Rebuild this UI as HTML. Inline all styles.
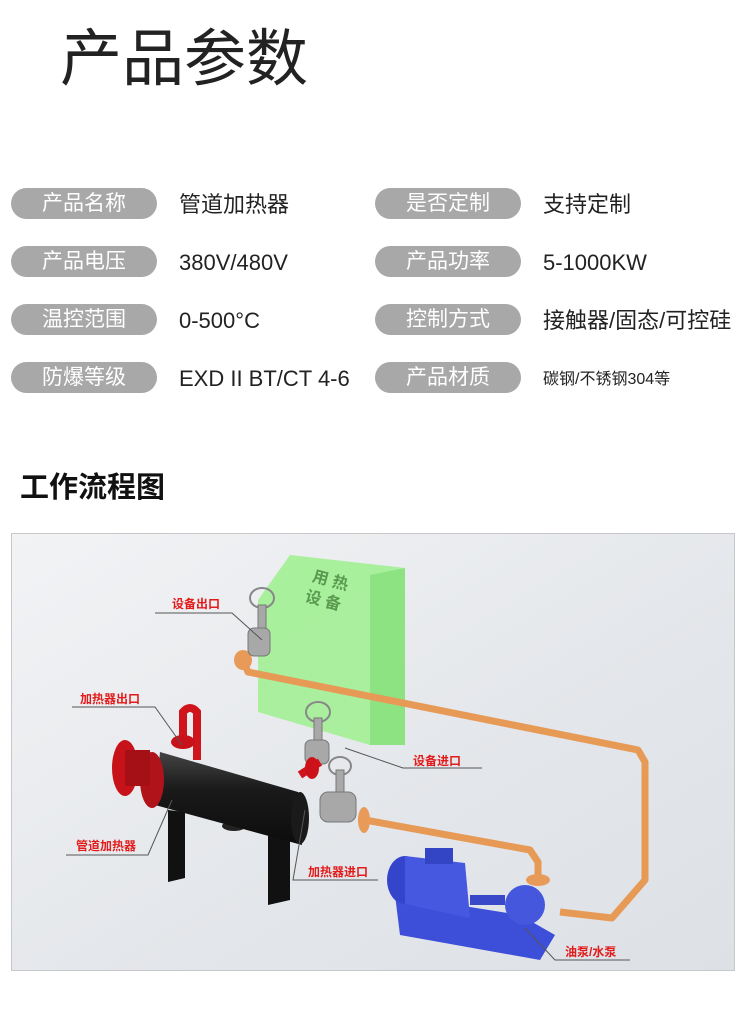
<!DOCTYPE html>
<html><head><meta charset="utf-8"><style>
body{margin:0;width:750px;height:1020px;background:#fff;position:relative;overflow:hidden;font-family:"Liberation Sans","Noto Sans CJK SC",sans-serif;}
.a{position:absolute;white-space:nowrap;}
.t{left:60px;top:24px;font-size:62px;color:#222;line-height:72px;}
.p{position:absolute;width:146px;height:31px;border-radius:16px;background:#a8a8a8;color:#fff;font-size:21px;line-height:31px;text-align:center;}
.v{position:absolute;font-size:22px;color:#222;line-height:31px;}
.h{left:20px;top:470px;font-size:29px;color:#111;font-weight:bold;line-height:36px;}
</style></head><body>
<div class="a t">产品参数</div>
<div class="p" style="left:11px;top:188px">产品名称</div><div class="v" style="left:179px;top:189px">管道加热器</div>
<div class="p" style="left:375px;top:188px">是否定制</div><div class="v" style="left:543px;top:189px">支持定制</div>
<div class="p" style="left:11px;top:246px">产品电压</div><div class="v" style="left:179px;top:247px">380V/480V</div>
<div class="p" style="left:375px;top:246px">产品功率</div><div class="v" style="left:543px;top:247px">5-1000KW</div>
<div class="p" style="left:11px;top:304px">温控范围</div><div class="v" style="left:179px;top:305px">0-500°C</div>
<div class="p" style="left:375px;top:304px">控制方式</div><div class="v" style="left:543px;top:305px">接触器/固态/可控硅</div>
<div class="p" style="left:11px;top:362px">防爆等级</div><div class="v" style="left:179px;top:363px">EXD II BT/CT 4-6</div>
<div class="p" style="left:375px;top:362px">产品材质</div><div class="v" style="left:543px;top:364px;font-size:16px">碳钢/不锈钢304等</div>
<div class="a h">工作流程图</div>
<svg class="a" style="left:11px;top:533px" width="724" height="438" viewBox="11 533 724 438">
<defs>
<linearGradient id="bg" x1="0" y1="0" x2="1" y2="1"><stop offset="0" stop-color="#f2f3f5"/><stop offset="0.6" stop-color="#e3e6ea"/><stop offset="1" stop-color="#dde1e6"/></linearGradient>
<linearGradient id="cyl" x1="0" y1="0" x2="0" y2="1"><stop offset="0" stop-color="#444"/><stop offset="0.4" stop-color="#1a1a1a"/><stop offset="1" stop-color="#0c0c0c"/></linearGradient>
</defs>
<rect x="11.5" y="533.5" width="723" height="437" fill="url(#bg)" stroke="#c8c8c8"/>
<polygon points="258,600 290,555 405,568 405,745 370,745 258,712" fill="#9ef08e" opacity="0.85"/>
<polygon points="370,575 405,568 405,745 370,745" fill="#86e07a" opacity="0.8"/>
<text x="312" y="583" font-size="16" fill="#5a9a50" font-weight="bold" transform="rotate(15 320 580)">用 热</text>
<text x="305" y="605" font-size="16" fill="#5a9a50" font-weight="bold" transform="rotate(15 320 600)">设 备</text>
<polyline points="243,660 248,672 638,750 645,762 645,880 612,918 560,912" fill="none" stroke="#e79a55" stroke-width="7" stroke-linejoin="round"/>
<polyline points="365,820 530,850 538,862 538,880" fill="none" stroke="#e79a55" stroke-width="7" stroke-linejoin="round"/>
<ellipse cx="243" cy="660" rx="9" ry="10" fill="#e89a58"/>
<ellipse cx="364" cy="820" rx="6" ry="13" fill="#e89a58"/>
<ellipse cx="538" cy="880" rx="12" ry="6" fill="#e89a58"/>
<g fill="#a8a8a8" stroke="#777" stroke-width="1">
<ellipse cx="262" cy="598" rx="12" ry="10" fill="none" stroke="#888" stroke-width="2"/>
<rect x="258" y="605" width="8" height="25"/><rect x="248" y="628" width="22" height="28" rx="6"/>
<ellipse cx="318" cy="712" rx="12" ry="10" fill="none" stroke="#888" stroke-width="2"/>
<rect x="314" y="718" width="8" height="28"/><rect x="305" y="740" width="24" height="24" rx="6"/>
<ellipse cx="340" cy="766" rx="11" ry="9" fill="none" stroke="#888" stroke-width="2"/>
<rect x="336" y="770" width="8" height="25"/><rect x="320" y="792" width="36" height="30" rx="8"/>
</g>
<path d="M183,740 L183,712 Q190,704 197,712 L197,760" fill="none" stroke="#d0141c" stroke-width="8"/>
<ellipse cx="183" cy="742" rx="12" ry="7" fill="#c8121a"/>
<path d="M300,775 L320,762" stroke="#d0141c" stroke-width="8"/>
<ellipse cx="312" cy="768" rx="7" ry="11" fill="#cc1218"/>
<polygon points="168,810 185,812 185,878 168,882" fill="#111"/>
<polygon points="268,830 290,832 290,900 268,905" fill="#111"/>
<ellipse cx="234" cy="826" rx="12" ry="5" fill="#222"/>
<polygon points="160,752 298,792 302,845 155,805" fill="url(#cyl)"/>
<ellipse cx="300" cy="818" rx="9" ry="26" fill="#1a1a1a"/>
<ellipse cx="152" cy="780" rx="12" ry="28" fill="#b0141a"/>
<ellipse cx="125" cy="768" rx="13" ry="28" fill="#c8121a"/>
<rect x="125" y="750" width="25" height="36" fill="#a51016"/>
<polygon points="395,895 520,915 555,935 540,960 400,935" fill="#3d4fd8"/>
<ellipse cx="405" cy="880" rx="18" ry="24" fill="#3445cc"/>
<polygon points="405,856 465,863 470,918 405,904" fill="#4658e0"/>
<rect x="425" y="848" width="28" height="16" fill="#3344c4"/>
<ellipse cx="525" cy="905" rx="20" ry="20" fill="#4557dd"/>
<rect x="470" y="895" width="35" height="10" fill="#3848c8"/>
<g fill="none" stroke="#555" stroke-width="1">
<polyline points="155,613 232,613 262,640"/>
<polyline points="72,707 155,707 182,745"/>
<polyline points="482,768 403,768 345,748"/>
<polyline points="66,855 148,855 172,800"/>
<polyline points="378,880 293,880 305,810"/>
<polyline points="630,960 555,960 525,928"/>
</g>
<g fill="#e21a1a" font-size="12" font-weight="bold">
<text x="172" y="608">设备出口</text>
<text x="80" y="703">加热器出口</text>
<text x="413" y="765">设备进口</text>
<text x="76" y="850">管道加热器</text>
<text x="308" y="876">加热器进口</text>
<text x="565" y="956">油泵/水泵</text>
</g>
</svg>
</body></html>
